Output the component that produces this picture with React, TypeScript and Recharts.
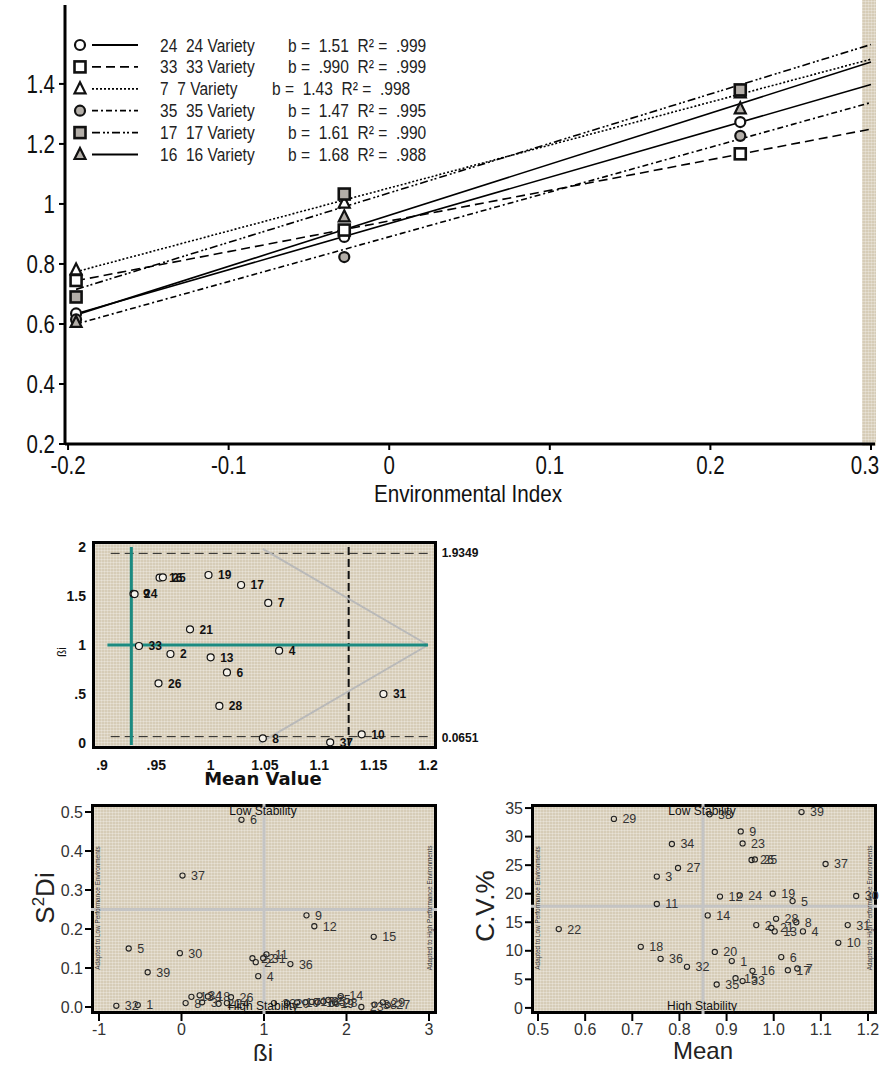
import React from "react";
import { ScatterChart, Scatter, XAxis, YAxis, ReferenceLine, LabelList } from "recharts";

// ---- top panel: regression of variety yield on environmental index ----
const envIndex = [-0.195, -0.028, 0.2186];
const varieties = ["24", "33", "7", "35", "17", "16"];
const yield24 = [0.635, 0.89, 1.273];
const yield33 = [0.745, 0.913, 1.167];
const yield7 = [0.78, 1.003, 1.37];
const yield35 = [0.615, 0.823, 1.227];
const yield17 = [0.69, 1.033, 1.38];
const yield16 = [0.605, 0.957, 1.317];
const slopeLabels = ["1.51", ".990", "1.43", "1.47", "1.61", "1.68"];
const r2Labels = [".999", ".999", ".998", ".995", ".990", ".988"];
const fitRange = [-0.195, 0.3];
const envTicks = [-0.2, -0.1, 0, 0.1, 0.2, 0.3];
const yieldTicks = [0.2, 0.4, 0.6, 0.8, 1, 1.2, 1.4];

// ---- middle panel: mean vs regression coefficient ----
const midLabels = ["16", "25", "19", "17", "7", "9", "24", "21", "33", "2", "13", "4", "6", "26", "28", "31", "10", "8", "37"];
const midMean = [0.953, 0.956, 0.998, 1.028, 1.053, 0.929, 0.930, 0.981, 0.934, 0.963, 1.0, 1.063, 1.015, 0.952, 1.008, 1.159, 1.139, 1.048, 1.11];
const midBeta = [1.687, 1.69, 1.714, 1.612, 1.429, 1.522, 1.52, 1.16, 0.99, 0.908, 0.874, 0.942, 0.72, 0.609, 0.378, 0.5, 0.089, 0.048, 0.007];
const midXTicks = [0.9, 0.95, 1, 1.05, 1.1, 1.15, 1.2];
const midYTicks = [0, 0.5, 1, 1.5, 2];
const betaLimits = [1.9349, 0.0651];
const meanLimit = 1.127;
const grandMean = 0.927;
const guideLine = [
  { x: 1.048, y: 1.98 },
  { x: 1.2, y: 1.0 },
  { x: 1.045, y: 0.0 },
];

// ---- bottom left: beta vs deviation variance ----
const s2Labels = ["6", "37", "9", "12", "15", "5", "30", "39", "22", "2", "11", "31", "36", "4", "32", "1", "8", "13", "34", "18", "3", "21", "26", "24", "33", "20", "10", "7", "17", "16", "35", "25", "19", "28", "14", "23", "38", "29", "27"];
const s2Beta = [0.727, 0.012, 1.515, 1.61, 2.33, -0.64, -0.02, -0.41, 0.86, 0.9, 1.03, 0.99, 1.32, 0.93, -0.79, -0.53, 0.05, 0.12, 0.22, 0.32, 0.25, 0.45, 0.6, 0.55, 1.12, 1.28, 1.4, 1.5, 1.58, 1.65, 1.72, 1.78, 1.82, 1.86, 1.93, 2.18, 2.34, 2.44, 2.5];
const s2Dev = [0.48, 0.337, 0.235, 0.207, 0.18, 0.15, 0.138, 0.089, 0.125, 0.115, 0.135, 0.125, 0.11, 0.079, 0.003, 0.005, 0.01, 0.026, 0.03, 0.027, 0.012, 0.008, 0.025, 0.01, 0.01, 0.01, 0.012, 0.012, 0.013, 0.012, 0.014, 0.018, 0.008, 0.012, 0.028, 0.0, 0.006, 0.012, 0.005];

// ---- bottom right: mean vs coefficient of variation ----
const cvLabels = ["29", "38", "39", "9", "23", "34", "27", "26", "25", "3", "37", "12", "24", "19", "5", "30", "11", "14", "28", "8", "2", "21", "13", "4", "31", "22", "18", "10", "20", "36", "1", "6", "32", "16", "17", "7", "15", "33", "35"];
const cvMean = [0.661, 0.864, 1.059, 0.93, 0.934, 0.784, 0.797, 0.953, 0.96, 0.752, 1.11, 0.886, 0.928, 0.998, 1.04, 1.175, 0.752, 0.86, 1.005, 1.048, 0.963, 0.995, 1.002, 1.062, 1.157, 0.544, 0.718, 1.137, 0.875, 0.76, 0.911, 1.016, 0.816, 0.955, 1.03, 1.05, 0.919, 0.934, 0.879];
const cvValue = [33.1, 33.9, 34.3, 30.9, 28.8, 28.7, 24.5, 25.9, 26.0, 23.0, 25.2, 19.5, 19.7, 20.0, 18.7, 19.6, 18.2, 16.2, 15.6, 15.0, 14.5, 14.0, 13.4, 13.4, 14.5, 13.8, 10.7, 11.4, 9.8, 8.6, 8.2, 8.9, 7.2, 6.5, 6.6, 6.9, 5.2, 4.7, 4.1];

const arial = "'Liberation Sans', Arial, sans-serif";

const yieldSeries = [yield24, yield33, yield7, yield35, yield17, yield16];
const markerKind = ["circle", "square", "triangle", "circle", "square", "triangle"];
const markerFill = ["#fff", "#fff", "#fff", "#b3aea8", "#b3aea8", "#b3aea8"];
const lineDash = ["", "9 5", "2 2", "6 3 2 3", "8 3 2 2 2 3", ""];

const texture = {
  backgroundColor: "#d6ccb7",
  backgroundImage:
    "repeating-linear-gradient(0deg, rgba(255,255,255,0.28) 0 1px, transparent 1px 3px), repeating-linear-gradient(90deg, rgba(255,255,255,0.22) 0 1px, transparent 1px 3px)",
};

function fitLine(xs: number[], ys: number[]) {
  const n = xs.length;
  const mx = xs.reduce((s, v) => s + v, 0) / n;
  const my = ys.reduce((s, v) => s + v, 0) / n;
  let sxy = 0;
  let sxx = 0;
  xs.forEach((x, i) => {
    sxy += (x - mx) * (ys[i] - my);
    sxx += (x - mx) * (x - mx);
  });
  const b = sxy / sxx;
  const a = my - b * mx;
  return fitRange.map((x) => ({ x, y: a + b * x }));
}

function Marker({ cx, cy, kind, fill }: any) {
  if (kind === "circle") return <circle cx={cx} cy={cy} r={5} fill={fill} stroke="#111" strokeWidth={2.2} />;
  if (kind === "square")
    return <rect x={cx - 5.5} y={cy - 5.5} width={11} height={11} fill={fill} stroke="#111" strokeWidth={2.6} />;
  return (
    <polygon
      points={`${cx},${cy - 6.5} ${cx + 5.5},${cy + 4.5} ${cx - 5.5},${cy + 4.5}`}
      fill={fill}
      stroke="#111"
      strokeWidth={2.2}
    />
  );
}

// narrow-looking tick text (no condensed font installed, so squeeze horizontally)
function NarrowTick({ x, y, payload, textAnchor, vertical }: any) {
  const tx = vertical ? x : Math.min(x, 865);
  return (
    <text
      x={0}
      y={0}
      dy={vertical ? "0.355em" : "0.71em"}
      textAnchor={textAnchor}
      fontSize={25}
      fill="#111"
      fontFamily={arial}
      transform={`translate(${tx},${y}) scale(0.82,1)`}
    >
      {String(payload.value)}
    </text>
  );
}

function Txt({ x, y, size, children, rotate = 0, weight = 400, family = arial, color = "#111", squeeze = 1 }: any) {
  return (
    <div
      style={{
        position: "absolute",
        left: x,
        top: y,
        transform: `translate(-50%, -50%) rotate(${rotate}deg) scaleX(${squeeze})`,
        fontSize: size,
        fontWeight: weight,
        fontFamily: family,
        color,
        whiteSpace: "nowrap",
        lineHeight: 1,
      }}
    >
      {children}
    </div>
  );
}

function TopChart() {
  const fits = yieldSeries.map((ys) => fitLine(envIndex, ys));
  const points = yieldSeries.map((ys) => envIndex.map((x, i) => ({ x, y: ys[i] })));
  return (
    <div style={{ position: "absolute", left: 0, top: 0 }}>
      <div style={{ position: "absolute", left: 862, top: 0, width: 14, height: 446, ...texture }} />
      <ScatterChart width={882} height={510} margin={{ top: 5, right: 7, bottom: 10, left: 10 }}>
        <XAxis
          type="number"
          dataKey="x"
          domain={[-0.2019, 0.3025]}
          allowDataOverflow
          ticks={envTicks}
          height={56}
          axisLine={{ stroke: "#000", strokeWidth: 3 }}
          tickLine={{ stroke: "#000", strokeWidth: 2 }}
          tickSize={6}
          tickMargin={6}
          tick={<NarrowTick />}
        />
        <YAxis
          type="number"
          dataKey="y"
          domain={[0.2, 1.663]}
          allowDataOverflow
          ticks={yieldTicks}
          width={55}
          axisLine={{ stroke: "#000", strokeWidth: 3 }}
          tickLine={{ stroke: "#000", strokeWidth: 2 }}
          tickSize={6}
          tickMargin={4}
          tick={<NarrowTick vertical />}
        />
        {fits.map((d, i) => (
          <Scatter
            key={"fit" + i}
            data={d}
            line={{ stroke: "#000", strokeWidth: 1.6, strokeDasharray: lineDash[i] }}
            shape={() => <g />}
            isAnimationActive={false}
          />
        ))}
        {points.map((d, i) => (
          <Scatter
            key={"pt" + i}
            data={d}
            shape={(p: any) => <Marker cx={p.cx} cy={p.cy} kind={markerKind[i]} fill={markerFill[i]} />}
            isAnimationActive={false}
          />
        ))}
      </ScatterChart>
      <svg width={450} height={170} style={{ position: "absolute", left: 0, top: 0 }}>
        {varieties.map((v, i) => {
          const y = 45 + i * 21.9;
          return (
            <g key={v}>
              <Marker cx={80} cy={y} kind={markerKind[i]} fill={markerFill[i]} />
              <line x1={92} x2={138} y1={y} y2={y} stroke="#000" strokeWidth={1.8} strokeDasharray={lineDash[i]} />
              <text
                transform={`translate(160,${y + 6.5}) scale(0.84,1)`}
                fontSize={18.5}
                fontFamily={arial}
                fill="#222"
                style={{ whiteSpace: "pre" }}
              >
                {`${v}  ${v} Variety`}
              </text>
              <text
                transform={`translate(${v.length === 1 ? 272 : 288},${y + 6.5}) scale(0.84,1)`}
                fontSize={18.5}
                fontFamily={arial}
                fill="#222"
                style={{ whiteSpace: "pre" }}
              >
                {`b =  ${slopeLabels[i]}  R² =  ${r2Labels[i]}`}
              </text>
            </g>
          );
        })}
      </svg>
      <Txt x={468} y={494} size={24} squeeze={0.86}>
        Environmental Index
      </Txt>
    </div>
  );
}

const dropZero = (v: number) => (v === 0 ? "0" : String(v).replace(/^0\./, "."));

function MiddleChart() {
  const data = midLabels.map((name, i) => ({ name, x: midMean[i], y: midBeta[i] }));
  return (
    <div style={{ position: "absolute", left: 0, top: 0 }}>
      <div
        style={{
          position: "absolute",
          left: 92,
          top: 541,
          width: 345,
          height: 208,
          boxSizing: "border-box",
          border: "3px solid #000",
          ...texture,
        }}
      />
      <div style={{ position: "absolute", left: 52, top: 531 }}>
        <ScatterChart width={395} height={253} margin={{ top: 10, right: 10, bottom: 5, left: 0 }}>
          <XAxis
            type="number"
            dataKey="x"
            domain={[0.8908, 1.2083]}
            allowDataOverflow
            ticks={midXTicks}
            tickFormatter={dropZero}
            height={30}
            axisLine={false}
            tickLine={false}
            tickSize={0}
            tickMargin={11}
            tick={{ fontSize: 14, fontWeight: 700, fill: "#111", fontFamily: arial }}
          />
          <YAxis
            type="number"
            dataKey="y"
            domain={[-0.061, 2.061]}
            allowDataOverflow
            ticks={midYTicks}
            tickFormatter={dropZero}
            width={40}
            axisLine={false}
            tickLine={false}
            tickSize={0}
            tickMargin={6}
            tick={{ fontSize: 14, fontWeight: 700, fill: "#111", fontFamily: arial }}
          />
          {betaLimits.map((b) => (
            <ReferenceLine
              key={b}
              segment={[
                { x: 0.908, y: b },
                { x: 1.2, y: b },
              ]}
              stroke="#222"
              strokeWidth={1}
              strokeDasharray="9 5"
            />
          ))}
          <ReferenceLine
            segment={[
              { x: meanLimit, y: 2.0 },
              { x: meanLimit, y: -0.02 },
            ]}
            stroke="#111"
            strokeWidth={2}
            strokeDasharray="8 4"
          />
          <ReferenceLine segment={[guideLine[0], guideLine[1]]} stroke="#b9b9b9" strokeWidth={2} />
          <ReferenceLine segment={[guideLine[1], guideLine[2]]} stroke="#b9b9b9" strokeWidth={2} />
          <ReferenceLine
            segment={[
              { x: grandMean, y: 2.0 },
              { x: grandMean, y: -0.02 },
            ]}
            stroke="#1b8a80"
            strokeWidth={3}
          />
          <ReferenceLine
            segment={[
              { x: 0.905, y: 1 },
              { x: 1.2, y: 1 },
            ]}
            stroke="#1b8a80"
            strokeWidth={3}
          />
          <Scatter
            data={data}
            isAnimationActive={false}
            shape={(p: any) => <circle cx={p.cx} cy={p.cy} r={3.5} fill="#f4f1ea" stroke="#111" strokeWidth={1.2} />}
          >
            <LabelList dataKey="name" position="right" offset={5} fontSize={12} fontWeight={700} fill="#111" fontFamily={arial} />
          </Scatter>
        </ScatterChart>
      </div>
      <Txt x={460} y={553} size={12} weight={700}>
        1.9349
      </Txt>
      <Txt x={460} y={738} size={12} weight={700}>
        0.0651
      </Txt>
      <Txt x={263} y={779} size={18} weight={800} family="'DejaVu Sans', sans-serif">
        Mean Value
      </Txt>
      <Txt x={62} y={652} size={12} rotate={-90}>
        ßi
      </Txt>
    </div>
  );
}

function StabilityPanel({ frameLeft, names, xs, ys, xDomain, yDomain, xTicks, yTicks, fmtX, fmtY, vLine, hLine }: any) {
  const data = names.map((name: string, i: number) => ({ name, x: xs[i], y: ys[i] }));
  return (
    <>
      <div
        style={{
          position: "absolute",
          left: frameLeft,
          top: 804,
          width: 346,
          height: 210,
          boxSizing: "border-box",
          border: "3px solid #000",
          ...texture,
        }}
      />
      <div style={{ position: "absolute", left: frameLeft - 45, top: 794 }}>
        <ScatterChart width={405} height={270} margin={{ top: 10, right: 14, bottom: 5, left: 0 }}>
          <XAxis
            type="number"
            dataKey="x"
            domain={xDomain}
            allowDataOverflow
            ticks={xTicks}
            tickFormatter={fmtX}
            height={45}
            axisLine={false}
            tickLine={{ stroke: "#000", strokeWidth: 2 }}
            tickSize={7}
            tickMargin={3}
            tick={{ fontSize: 16, fill: "#333", fontFamily: arial }}
          />
          <YAxis
            type="number"
            dataKey="y"
            domain={yDomain}
            allowDataOverflow
            ticks={yTicks}
            tickFormatter={fmtY}
            width={45}
            axisLine={false}
            tickLine={{ stroke: "#000", strokeWidth: 2 }}
            tickSize={6}
            tickMargin={2}
            tick={{ fontSize: 16, fill: "#333", fontFamily: arial }}
          />
          <ReferenceLine x={vLine} stroke="#c4c4c4" strokeWidth={3} />
          <ReferenceLine y={hLine} stroke="#c4c4c4" strokeWidth={3} />
          <Scatter
            data={data}
            isAnimationActive={false}
            shape={(p: any) => <circle cx={p.cx} cy={p.cy} r={2.6} fill="none" stroke="#222" strokeWidth={1.1} />}
          >
            <LabelList dataKey="name" position="right" offset={4} fontSize={12.5} fill="#333" fontFamily={arial} />
          </Scatter>
        </ScatterChart>
      </div>
    </>
  );
}

function BottomCharts() {
  return (
    <div style={{ position: "absolute", left: 0, top: 0 }}>
      <StabilityPanel
        frameLeft={91}
        names={s2Labels}
        xs={s2Beta}
        ys={s2Dev}
        xDomain={[-1.097, 3.097]}
        yDomain={[-0.018, 0.5205]}
        xTicks={[-1, 0, 1, 2, 3]}
        yTicks={[0, 0.1, 0.2, 0.3, 0.4, 0.5]}
        fmtX={(v: number) => String(v)}
        fmtY={(v: number) => v.toFixed(1)}
        vLine={1}
        hLine={0.25}
      />
      <Txt x={263} y={811} size={12}>Low Stability</Txt>
      <Txt x={263} y={1006} size={12}>High Stability</Txt>
      <Txt x={98} y={908} size={7.5} rotate={-90} color="#333" squeeze={0.85}>
        Adapted to Low Performance Environments
      </Txt>
      <Txt x={430} y={908} size={7.5} rotate={-90} color="#333" squeeze={0.85}>
        Adapted to High Performance Environments
      </Txt>
      <Txt x={263} y={1053} size={24} color="#222">ßi</Txt>
      <Txt x={44} y={898} size={26} rotate={-90} color="#222">
        S<span style={{ fontSize: 17, verticalAlign: "super" }}>2</span>Di
      </Txt>

      <StabilityPanel
        frameLeft={531}
        names={cvLabels}
        xs={cvMean}
        ys={cvValue}
        xDomain={[0.4851, 1.2191]}
        yDomain={[-1.07, 35.71]}
        xTicks={[0.5, 0.6, 0.7, 0.8, 0.9, 1.0, 1.1, 1.2]}
        yTicks={[0, 5, 10, 15, 20, 25, 30, 35]}
        fmtX={(v: number) => v.toFixed(1)}
        fmtY={(v: number) => String(v)}
        vLine={0.85}
        hLine={17.8}
      />
      <Txt x={702} y={811} size={12}>Low Stability</Txt>
      <Txt x={702} y={1006} size={12}>High Stability</Txt>
      <Txt x={538} y={908} size={7.5} rotate={-90} color="#333" squeeze={0.85}>
        Adapted to Low Performance Environments
      </Txt>
      <Txt x={870} y={908} size={7.5} rotate={-90} color="#333" squeeze={0.85}>
        Adapted to High Performance Environments
      </Txt>
      <Txt x={703} y={1051} size={24} color="#222">Mean</Txt>
      <Txt x={485} y={906} size={26} rotate={-90} color="#222">C.V.%</Txt>
    </div>
  );
}

export default function App() {
  return (
    <div style={{ position: "absolute", left: 0, top: 0, width: 882, height: 1068, background: "#fff", overflow: "hidden" }}>
      <TopChart />
      <MiddleChart />
      <BottomCharts />
    </div>
  );
}
